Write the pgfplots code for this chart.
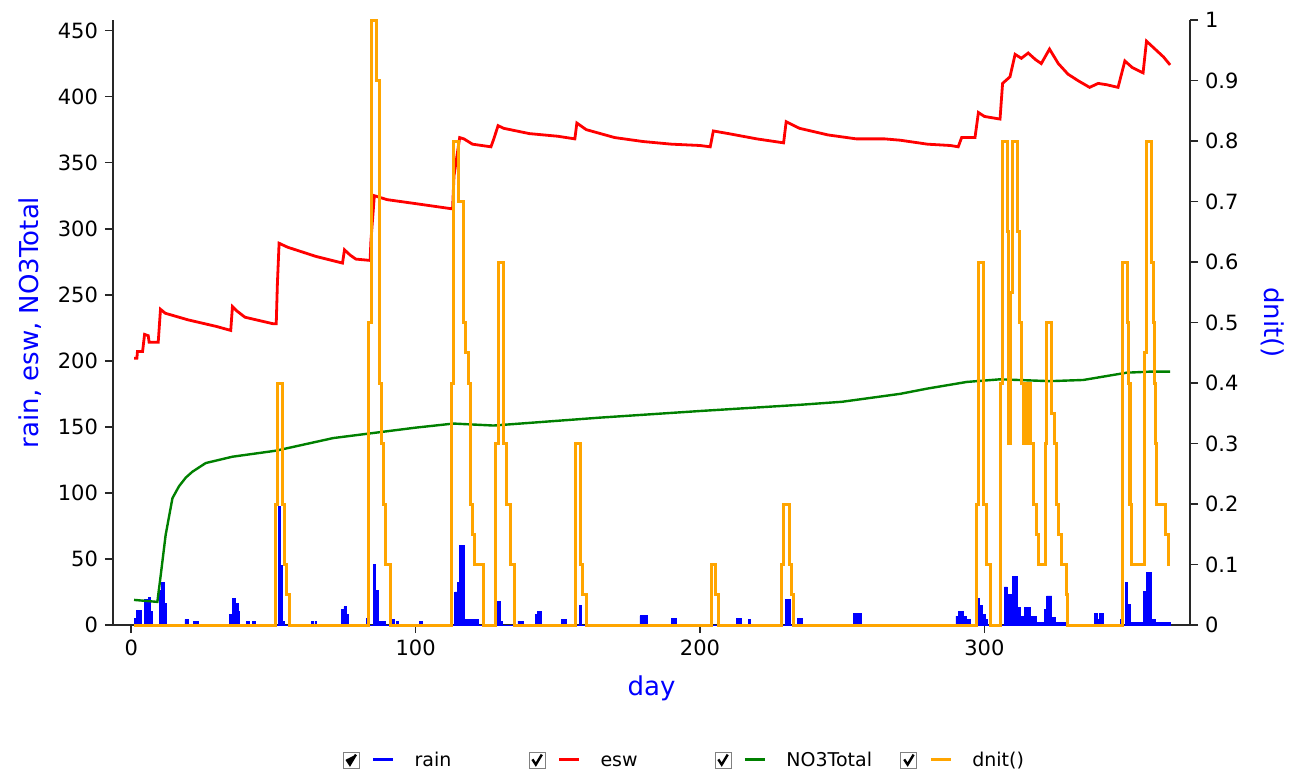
\documentclass[border=0pt]{standalone}
\usepackage{fontspec}
\setmainfont{DejaVu Sans}
\usepackage{pgfplots}
\usepackage{pgfplotstable}
\pgfplotsset{compat=1.18}
\definecolor{cBlue}{RGB}{0,0,255}
\definecolor{cRed}{RGB}{255,0,0}
\definecolor{cGreen}{RGB}{0,128,0}
\definecolor{cOrange}{RGB}{255,165,0}
\definecolor{axgray}{RGB}{40,40,40}

\pgfplotstableread{
day val
1 5
1.8 11
3.6 0
4.8 19.5
6 21
6.8 10.5
7.5 0
9.8 26
10.6 32
11.6 16
12.4 0
18.9 4
20.2 0
21.8 3
23.5 0
34.7 8
35.5 20
36.7 16
37.6 10.5
38.2 0
40.6 3
41.6 0
42.5 3
43.5 0
51.7 90
52.5 45
53.3 3
54 0
63.4 3
64 0
64.6 3
65.2 0
74 12
74.8 14
75.8 8
76.5 0
82.8 5
83.3 0
85.1 46
86 26
86.9 3
89.5 0
91.6 4
92.4 0
93.2 3
93.9 0
101.5 3
102.3 0
113.8 25
114.6 32
115.3 60
117.3 4
122 0
127.9 18
129.7 3
130.5 0
136 3
137.9 0
142.3 8
143 10
144.3 0
151.3 4
153.1 0
157.6 15
158.4 0
178.9 7
181.5 0
190 5
191.8 0
212.7 5
214.7 0
217 4
217.8 0
230 19.5
231.7 0
234.4 5
236.1 0
254 9
256.9 0
290 6.8
290.8 10.6
292.6 6.8
293.8 4
295.2 0
297.6 20
298.4 15
299.2 8
300.3 4
301.1 0
307 28.8
308.1 12
308.5 23
310 36.6
311.6 13
312.6 6.8
314 13.6
316.3 6.8
318.4 1.8
320.7 0
321 12
321.9 22
323.7 5.5
324.9 1.8
328.5 0
338.7 8.6
339.7 4
340.3 8.6
341.9 0
347.7 4
348.7 0
349.6 32
350.3 15.6
351.2 1.8
356 25.7
356.9 39.6
358.9 4.3
360 1.8
365.3 0
}\rain

\pgfplotstableread{
day val
1 202
2 202
2.2 207
4 207
4.7 220
6 219
6.3 214
9.5 214
10.3 239
12 236
20 231
30 226
35 223
35.6 241
37 238
40 233
50 228
51 228
51.4 258
52 289
55 286
65 279
74.3 274
75 284
77 280
79 277
84 276
84.3 291
85.5 325
90 322
100 319
113 315
113.5 340
115.5 369
117 368
120 364
126.5 362
127.5 368
129 378
131 376
140 372
150 370
156 368
156.7 380
160 375
170 369
180 366
190 364
200 363
203.6 362
204.7 374
210 372
220 368
229.4 365
230.3 381
235 376
245 371
255 368
265 368
270.4 367
280 364
288 363
290.8 362
292 369
296.7 369
297.9 388
300 385
305.5 383
306.4 410
309 415
310.8 432
313 429
315.4 433
318 428
320 425
322.9 436
326 425
329.4 417
333 412
337 407
340 410
343 409
347 407
349.4 427
352 422
355.8 418
357 442
360 436
363 430
365.3 424
}\esw

\pgfplotstableread{
day val
1 19
9.2 17.5
10.4 38
12.1 68
14.5 96
16.8 105
19.2 111.6
21.5 116
26.2 122.6
35.6 127.4
51 132
71 141.5
82.7 144.7
100 149.4
113.3 152.5
127.4 151
140 153
164.9 157
200 162
235.2 166.7
250 169
270.4 175
280 179
293.8 184
305.5 186
323 184.6
334.8 185.5
350 191
358.2 191.8
365.3 191.8
}\nothree

\pgfplotstableread{
day val
1 0
50.6 0.2
51.5 0.4
53.1 0.2
53.9 0.1
54.7 0.05
55.6 0
83.6 0.5
84.5 1.0
86.2 0.9
87.2 0.4
88.0 0.3
88.6 0.2
89.5 0.1
91.2 0
112.7 0.4
113.5 0.8
115.0 0.7
116.8 0.5
117.7 0.45
118.5 0.4
119.3 0.2
120.0 0.15
120.8 0.1
123.8 0
128.0 0.3
129.1 0.6
130.8 0.3
132.0 0.2
133.3 0.1
134.8 0
156.4 0.3
158.0 0.1
158.8 0.05
160.0 0
204.1 0.1
205.5 0.05
206.5 0
228.7 0.1
229.5 0.2
231.4 0.1
232.2 0.05
232.8 0
297.1 0.2
297.9 0.6
299.7 0.2
300.6 0.1
302.2 0
305.5 0.4
306.3 0.8
308.1 0.65
308.6 0.3
309.2 0.55
309.8 0.8
311.8 0.65
312.5 0.5
313.2 0.4
313.8 0.3
314.4 0.4
315.0 0.3
315.6 0.4
316.2 0.3
317.2 0.2
318.4 0.15
319.0 0.1
321.6 0.3
322.0 0.5
323.7 0.35
324.6 0.3
325.2 0.2
326.0 0.15
327.2 0.1
328.7 0.05
329.2 0
348.6 0.6
350.3 0.5
350.7 0.4
351.2 0.2
351.7 0.1
356.3 0.45
357.0 0.8
358.9 0.6
359.4 0.5
359.8 0.4
360.2 0.3
360.6 0.2
363.6 0.15
364.7 0.1
365.3 0.1
}\dnit

\begin{document}
\begin{tikzpicture}
\useasboundingbox (-56.5pt,-74pt) rectangle (594.5pt,312.5pt);
\pgfplotsset{
  common/.style={
    scale only axis, width=538.5pt, height=302.5pt,
    xmin=-6.4, xmax=372.3,
    axis line style={axgray, line width=0.8pt, -},
    tick style={axgray, line width=0.8pt},
    tick align=outside, major tick length=4pt,
    /pgf/number format/assume math mode=true,
    tick label style={font=\fontsize{10.5}{12}\selectfont, black},
    label style={font=\fontsize{13}{15}\selectfont, text=cBlue},
    clip=false,
  }
}
\begin{axis}[common,
  ymin=0, ymax=458,
  axis x line*=bottom, axis y line*=left,
  xtick={0,100,200,300}, ytick={0,50,...,450},
  xlabel={day}, ylabel={rain, esw, NO3Total},
  xlabel style={at={(axis description cs:0.5,-0.104)}, anchor=center},
  ylabel style={at={(axis description cs:-0.0771,0.5)}, anchor=center},
  legend columns=4,
  legend style={draw=none, fill=none, inner sep=0pt, outer sep=0pt,
    at={(0.2133,-0.2231)}, anchor=west,
    font=\fontsize{9.5}{11}\selectfont,
    /tikz/every odd column/.append style={column sep=8pt},
    /tikz/every even column/.append style={column sep=0pt}},
  legend cell align=left,
  legend image code/.code={
    \draw[draw=gray, fill=white, line width=0.4pt] (0pt,-4pt) rectangle (8pt,4pt);
    \draw[black, line width=1.2pt] (1.7pt,0.3pt) -- (3.4pt,-2.3pt) -- (6.4pt,2.7pt);
    \draw[#1, fill=none, line width=1.5pt] (15pt,0pt) -- (25pt,0pt);
  },
]
\addplot[draw=cBlue, fill=cBlue, const plot, line width=0.4pt] table[x=day,y=val] {\rain} \closedcycle;
\addlegendentry{\makebox[55pt][l]{\strut rain}}
\addplot[cRed, line width=1.4pt] table[x=day,y=val] {\esw};
\addlegendentry{\makebox[55pt][l]{\strut esw}}
\addplot[cGreen, line width=1.2pt] table[x=day,y=val] {\nothree};
\addlegendentry{\makebox[55pt][l]{\strut NO3Total}}
\addlegendimage{cOrange, line width=1.5pt}
\addlegendentry{\makebox[55pt][l]{\strut dnit()}}
\end{axis}
\begin{axis}[common,
  ymin=0, ymax=1,
  axis x line=none, axis y line*=right,
  ytick={0,0.1,...,1},
  ylabel={dnit()},
  ylabel style={at={(axis description cs:1.0771,0.5)}, anchor=center, rotate=180},
]
\addplot[cOrange, const plot, line width=1.5pt] table[x=day,y=val] {\dnit};
\end{axis}
\end{tikzpicture}
\end{document}
